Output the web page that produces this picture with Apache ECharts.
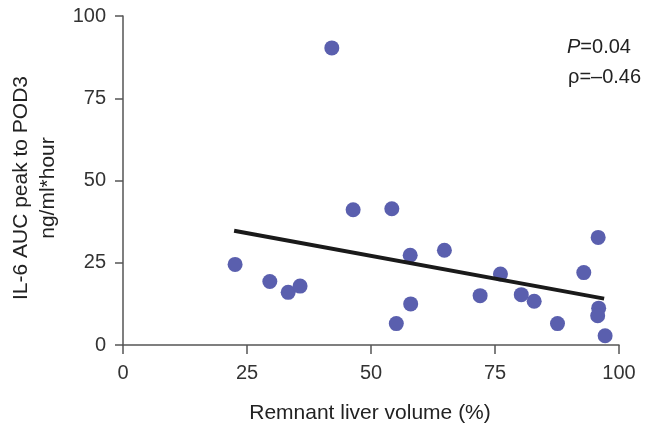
<!DOCTYPE html>
<html>
<head>
<meta charset="utf-8">
<script src="https://cdn.jsdelivr.net/npm/echarts@6/dist/echarts.min.js"></script>
<style>
  html, body { margin: 0; padding: 0; background: #fff; }
  #chart { width: 650px; height: 427px; }
</style>
</head>
<body>
<div id="chart"></div>
<script>
// remnant liver volume (%) vs IL-6 AUC
const volume = [22.6, 29.6, 33.3, 35.7, 42.1, 46.4, 54.2, 57.9, 55.1, 58.0, 64.8,
  72.0, 76.1, 80.3, 82.9, 87.6, 92.9, 95.8, 95.9, 95.7, 97.2];
const il6Auc = [24.5, 19.3, 16.0, 17.9, 90.3, 41.1, 41.4, 27.3, 6.5, 12.5, 28.8,
  15.0, 21.6, 15.3, 13.3, 6.5, 22.0, 32.7, 11.2, 8.9, 2.8];
// fitted line end points
const fitX = [22.4, 97.0];
const fitY = [34.7, 14.1];
const xTicks = [0, 25, 50, 75, 100];
const yTicks = [0, 25, 50, 75, 100];

const chart = echarts.init(document.getElementById('chart'));
const font = 'Liberation Sans, Arial, sans-serif';
const axisCommon = {
  type: 'value',
  min: 0,
  max: 100,
  interval: 25,
  splitLine: { show: false },
  axisLine: { show: true, lineStyle: { color: '#555', width: 1.5 } },
  axisTick: { show: true, length: 9, lineStyle: { color: '#555', width: 1.5 } },
  axisLabel: { color: '#333', fontSize: 20, fontFamily: font, margin: 18 }
};

chart.setOption({
  animation: false,
  grid: { left: 123, right: 31, top: 16, bottom: 82 },
  xAxis: Object.assign({}, axisCommon, {
    axisLabel: Object.assign({}, axisCommon.axisLabel, {
      formatter: (v) => (xTicks.includes(v) ? String(v) : '')
    })
  }),
  yAxis: Object.assign({}, axisCommon, {
    axisTick: { show: true, length: 8, lineStyle: { color: '#555', width: 1.5 } },
    axisLabel: Object.assign({}, axisCommon.axisLabel, {
      margin: 17,
      formatter: (v) => (yTicks.includes(v) ? String(v) : '')
    })
  }),
  series: [
    {
      type: 'scatter',
      data: volume.map((v, i) => [v, il6Auc[i]]),
      symbolSize: 15,
      itemStyle: { color: '#5a5fae', opacity: 1 },
      z: 2
    },
    {
      type: 'line',
      data: fitX.map((v, i) => [v, fitY[i]]),
      showSymbol: false,
      lineStyle: { color: '#1a1a1a', width: 4 },
      z: 3
    }
  ],
  graphic: [
    {
      type: 'text',
      x: 35, y: 188,
      rotation: Math.PI / 2,
      style: {
        text: 'IL-6 AUC peak to POD3\nng/ml*hour',
        fill: '#222', font: '21px ' + font,
        align: 'center', verticalAlign: 'middle', lineHeight: 27
      }
    },
    {
      type: 'text',
      x: 370, y: 413,
      style: {
        text: 'Remnant liver volume (%)',
        fill: '#222', font: '21px ' + font,
        align: 'center', verticalAlign: 'middle'
      }
    },
    {
      type: 'text',
      x: 567, y: 47,
      style: {
        text: '{i|P}=0.04',
        rich: { i: { fontStyle: 'italic', fontSize: 20, fontFamily: font, fill: '#222' } },
        fill: '#222', font: '20px ' + font, verticalAlign: 'middle'
      }
    },
    {
      type: 'text',
      x: 568, y: 77,
      style: {
        text: 'ρ=–0.46',
        fill: '#222', font: '20px ' + font, verticalAlign: 'middle'
      }
    }
  ]
});
</script>
</body>
</html>
